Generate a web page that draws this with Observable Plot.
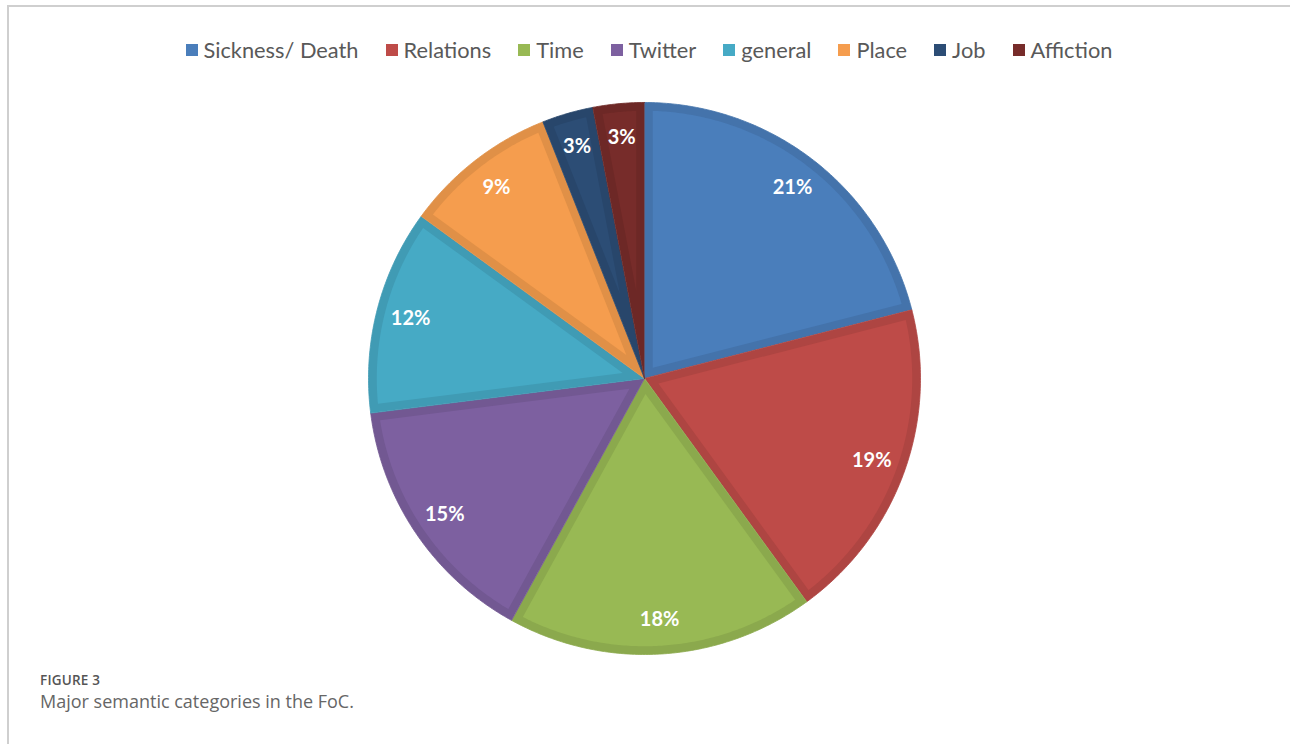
<!DOCTYPE html>
<html><head><meta charset="utf-8">
<script src="https://cdn.jsdelivr.net/npm/d3@7"></script>
<script src="https://cdn.jsdelivr.net/npm/@observablehq/plot@0.6"></script>
<style>
html,body{margin:0;padding:0;background:#fff;width:1290px;height:744px;overflow:hidden;position:relative;}
#frame{position:absolute;left:7px;top:5px;right:-4px;bottom:-4px;border-top:2px solid #cfcfcf;border-left:2px solid #cfcfcf;}
#chart{position:absolute;left:0;top:0;}
#legend{position:absolute;top:36px;left:4px;width:1290px;display:flex;justify-content:center;font-family:Lato,"Open Sans",sans-serif;font-size:21.8px;color:#595959;line-height:28px;}
#legend .item{display:flex;align-items:center;margin:0 13.5px;}
#legend .sw{width:12px;height:12px;margin-right:6px;}
#cap1{position:absolute;left:40px;top:673px;font-family:"Open Sans",sans-serif;font-size:13.5px;line-height:14px;font-weight:600;color:#555;letter-spacing:0.2px;}
#cap2{position:absolute;left:40px;top:692px;font-family:"Open Sans",sans-serif;font-size:18px;line-height:18px;color:#666;}
</style>
</head><body>
<div id="frame"></div>
<div id="chart"></div>
<div id="legend"></div>
<div id="cap1">FIGURE 3</div>
<div id="cap2">Major semantic categories in the FoC.</div>
<script>
const categories = ["Sickness/ Death","Relations","Time","Twitter","general","Place","Job","Affiction"];
const percents = [21,19,18,15,12,9,3,3];
const colors = ["#4A7EBB","#BE4B48","#98B954","#7D60A0","#46AAC5","#F59D4E","#2C4D75","#772C2A"];

// legend
const legend = document.getElementById("legend");
categories.forEach((c,i)=>{
  const it=document.createElement("div");it.className="item";
  const sw=document.createElement("div");sw.className="sw";sw.style.background=colors[i];
  const tx=document.createElement("span");tx.textContent=c;
  it.appendChild(sw);it.appendChild(tx);legend.appendChild(it);
});

// geometry built from the data
const arcs = d3.pie().sort(null)(percents);
const inset = 0.03;
const outer=[], inner=[], labels=[];
arcs.forEach((a,i)=>{
  const a0=a.startAngle, a1=a.endAngle;
  const n=Math.max(4, Math.ceil((a1-a0)/0.01));
  const dark=d3.color(colors[i]).darker(0.25).formatHex();
  outer.push({k:i,x:0,y:0,fill:dark});
  for(let j=0;j<=n;j++){const t=a0+(a1-a0)*j/n;outer.push({k:i,x:Math.sin(t),y:Math.cos(t),fill:dark});}
  const half=(a1-a0)/2, mid=(a0+a1)/2;
  const ra=inset/Math.sin(half);
  inner.push({k:i,x:ra*Math.sin(mid),y:ra*Math.cos(mid),fill:colors[i]});
  const R=1-inset, del=Math.asin(inset/R);
  const b0=a0+del,b1=a1-del;
  for(let j=0;j<=n;j++){const t=b0+(b1-b0)*j/n;inner.push({k:i,x:R*Math.sin(t),y:R*Math.cos(t),fill:colors[i]});}
  labels.push({x:0.875*Math.sin(mid),y:0.875*Math.cos(mid),text:percents[i]+"%"});
});

const plot = Plot.plot({
  width:1290, height:744, margin:0,
  style:{background:"transparent",fontFamily:"Lato,'Open Sans',sans-serif"},
  x:{domain:[-1,1],range:[368,920],axis:null},
  y:{domain:[-1,1],range:[654,102],axis:null},
  marks:[
    Plot.line(outer,{x:"x",y:"y",z:"k",fill:"fill",stroke:"fill",strokeWidth:0.8}),
    Plot.line(inner,{x:"x",y:"y",z:"k",fill:"fill",stroke:"none"}),
    Plot.text(labels,{x:"x",y:"y",text:"text",fill:"white",fontSize:20,fontWeight:"bold"})
  ]
});
document.getElementById("chart").appendChild(plot);
</script>
</body></html>
